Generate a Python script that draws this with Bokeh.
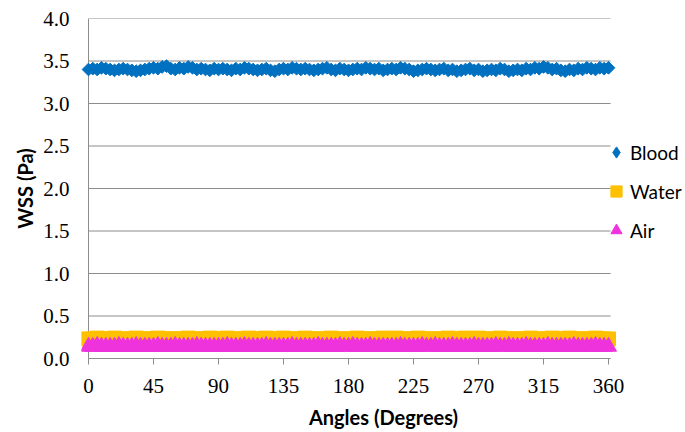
import math
from bokeh.plotting import figure
from bokeh.models import Range1d, FixedTicker, PrintfTickFormatter, Legend, LegendItem
from bokeh.embed import file_html
from bokeh.resources import INLINE

angles = list(range(0, 361, 3))

blood = [
    3.40, 3.41, 3.40, 3.42, 3.41, 3.40, 3.39, 3.40, 3.41, 3.40,
    3.39, 3.38, 3.39, 3.40, 3.41, 3.42, 3.41, 3.43, 3.44, 3.41,
    3.40, 3.42, 3.41, 3.43, 3.42, 3.40, 3.41, 3.40, 3.39, 3.41,
    3.40, 3.41, 3.40, 3.39, 3.41, 3.40, 3.42, 3.41, 3.40, 3.39,
    3.40, 3.41, 3.39, 3.38, 3.40, 3.41, 3.40, 3.42, 3.41, 3.40,
    3.41, 3.40, 3.39, 3.40, 3.41, 3.42, 3.40, 3.39, 3.41, 3.40,
    3.39, 3.40, 3.41, 3.40, 3.42, 3.41, 3.40, 3.41, 3.39, 3.40,
    3.41, 3.40, 3.42, 3.41, 3.40, 3.38, 3.39, 3.40, 3.41, 3.40,
    3.39, 3.40, 3.41, 3.39, 3.40, 3.38, 3.39, 3.40, 3.41, 3.39,
    3.40, 3.38, 3.39, 3.40, 3.39, 3.41, 3.40, 3.38, 3.39, 3.40,
    3.39, 3.41, 3.40, 3.42, 3.41, 3.43, 3.42, 3.40, 3.41, 3.39,
    3.38, 3.40, 3.39, 3.41, 3.40, 3.42, 3.41, 3.40, 3.42, 3.41,
    3.42,
]

water = [
    0.23, 0.23, 0.24, 0.23, 0.23, 0.23, 0.24, 0.23, 0.23, 0.23,
    0.23, 0.24, 0.23, 0.23, 0.23, 0.23, 0.24, 0.23, 0.23, 0.23,
    0.23, 0.23, 0.23, 0.24, 0.23, 0.23, 0.23, 0.23, 0.24, 0.23,
    0.23, 0.23, 0.24, 0.23, 0.23, 0.23, 0.23, 0.24, 0.23, 0.23,
    0.23, 0.24, 0.23, 0.23, 0.23, 0.24, 0.23, 0.23, 0.23, 0.23,
    0.24, 0.23, 0.23, 0.23, 0.23, 0.23, 0.24, 0.23, 0.23, 0.23,
    0.23, 0.23, 0.24, 0.23, 0.23, 0.23, 0.23, 0.23, 0.24, 0.23,
    0.23, 0.24, 0.23, 0.23, 0.23, 0.23, 0.24, 0.23, 0.23, 0.23,
    0.23, 0.23, 0.23, 0.24, 0.23, 0.23, 0.23, 0.24, 0.23, 0.23,
    0.24, 0.23, 0.23, 0.23, 0.23, 0.24, 0.23, 0.23, 0.23, 0.23,
    0.23, 0.23, 0.24, 0.23, 0.23, 0.23, 0.23, 0.24, 0.23, 0.23,
    0.23, 0.24, 0.23, 0.23, 0.23, 0.23, 0.23, 0.24, 0.23, 0.23,
    0.23,
]

air = [
    0.14, 0.14, 0.15, 0.14, 0.14, 0.14, 0.14, 0.15, 0.14, 0.14,
    0.14, 0.15, 0.14, 0.14, 0.14, 0.14, 0.15, 0.14, 0.14, 0.14,
    0.15, 0.14, 0.14, 0.14, 0.14, 0.15, 0.14, 0.14, 0.14, 0.14,
    0.14, 0.14, 0.15, 0.14, 0.14, 0.14, 0.15, 0.14, 0.14, 0.14,
    0.14, 0.15, 0.14, 0.14, 0.14, 0.14, 0.14, 0.15, 0.14, 0.14,
    0.14, 0.14, 0.14, 0.15, 0.14, 0.14, 0.14, 0.14, 0.15, 0.14,
    0.14, 0.15, 0.14, 0.14, 0.14, 0.15, 0.14, 0.14, 0.14, 0.14,
    0.14, 0.14, 0.15, 0.14, 0.14, 0.14, 0.14, 0.15, 0.14, 0.14,
    0.15, 0.14, 0.14, 0.14, 0.15, 0.14, 0.14, 0.14, 0.14, 0.15,
    0.14, 0.14, 0.14, 0.14, 0.15, 0.14, 0.14, 0.15, 0.14, 0.14,
    0.14, 0.15, 0.14, 0.14, 0.14, 0.14, 0.15, 0.14, 0.14, 0.14,
    0.14, 0.14, 0.15, 0.14, 0.14, 0.14, 0.14, 0.15, 0.14, 0.14,
    0.14,
]

series_names = ["Blood", "Water", "Air"]
x_ticks = [0, 45, 90, 135, 180, 225, 270, 315, 360]
y_ticks = [0.0, 0.5, 1.0, 1.5, 2.0, 2.5, 3.0, 3.5, 4.0]
X_END = 361.4      # where the plot area (grid lines) ends

GRID = "#8c8c8c"
SANS = "Lato"
SERIF = "Liberation Serif"
BLUE, ORANGE, MAGENTA = "#0070C0", "#FFC000", "#EE33DD"

p = figure(width=685, height=432, output_backend="svg", toolbar_location=None,
           x_range=Range1d(-4.846, 413.3), y_range=Range1d(0, 4.0),
           min_border_left=81, min_border_right=0, min_border_top=18,
           min_border_bottom=74)
p.outline_line_color = None
p.background_fill_color = "white"
p.border_fill_color = "white"

# grid lines and vertical axis line limited to the plot area x = 0 .. X_END
p.xgrid.visible = False
p.ygrid.visible = False
p.segment(x0=[0] * len(y_ticks), x1=[X_END] * len(y_ticks), y0=y_ticks, y1=y_ticks,
          line_color=GRID, line_width=1)
p.segment(x0=[x_ticks[0]], x1=[x_ticks[0]], y0=[y_ticks[0]], y1=[y_ticks[-1]],
          line_color=GRID, line_width=1)

xa = p.xaxis[0]
xa.ticker = FixedTicker(ticks=x_ticks)
xa.bounds = (0, X_END)
xa.axis_line_color = GRID
xa.major_tick_line_color = GRID
xa.major_tick_out = 6
xa.major_tick_in = 0
xa.minor_tick_line_color = None
xa.major_label_text_font = SERIF
xa.major_label_text_font_size = "21px"
xa.major_label_text_color = "black"
xa.major_label_standoff = 14
xa.axis_label = "Angles (Degrees)"
xa.axis_label_text_font = SANS
xa.axis_label_text_font_style = "bold"
xa.axis_label_text_font_size = "20px"
xa.axis_label_text_color = "black"
xa.axis_label_standoff = 9

ya = p.yaxis[0]
ya.ticker = FixedTicker(ticks=y_ticks)
ya.formatter = PrintfTickFormatter(format="%.1f")
ya.axis_line_color = None
ya.major_tick_line_color = None
ya.minor_tick_line_color = None
ya.major_tick_out = 0
ya.major_tick_in = 0
ya.major_label_text_font = SERIF
ya.major_label_text_font_size = "21px"
ya.major_label_text_color = "black"
ya.major_label_standoff = 12
ya.axis_label = "WSS (Pa)"
ya.axis_label_text_font = SANS
ya.axis_label_text_font_style = "bold"
ya.axis_label_text_font_size = "20px"
ya.axis_label_text_color = "black"
ya.axis_label_standoff = 3

r_blood = p.scatter(angles, blood, marker="square", angle=math.pi / 4, size=9,
                    fill_color=BLUE, line_color=BLUE)
r_water = p.scatter(angles, water, marker="square", size=14,
                    fill_color=ORANGE, line_color=ORANGE)
r_air = p.scatter(angles, air, marker="triangle", size=16,
                  fill_color=MAGENTA, line_color=MAGENTA)

# hidden twin of the Blood series, used only for its diamond legend key
key_blood = p.scatter(angles, blood, marker="diamond", size=12,
                      fill_color=BLUE, line_color=BLUE, visible=False)

legend = Legend(items=[LegendItem(label=series_names[0], renderers=[key_blood]),
                       LegendItem(label=series_names[1], renderers=[r_water]),
                       LegendItem(label=series_names[2], renderers=[r_air])],
                location=(521, 114), orientation="vertical",
                glyph_width=28, glyph_height=28, spacing=11, padding=0, margin=0,
                label_standoff=0, label_text_font=SANS, label_text_font_size="19px",
                label_text_color="black", background_fill_alpha=0, border_line_alpha=0,
                inactive_fill_alpha=0, click_policy="none")
p.add_layout(legend, "center")

open("out.html", "w").write(file_html(p, INLINE))
